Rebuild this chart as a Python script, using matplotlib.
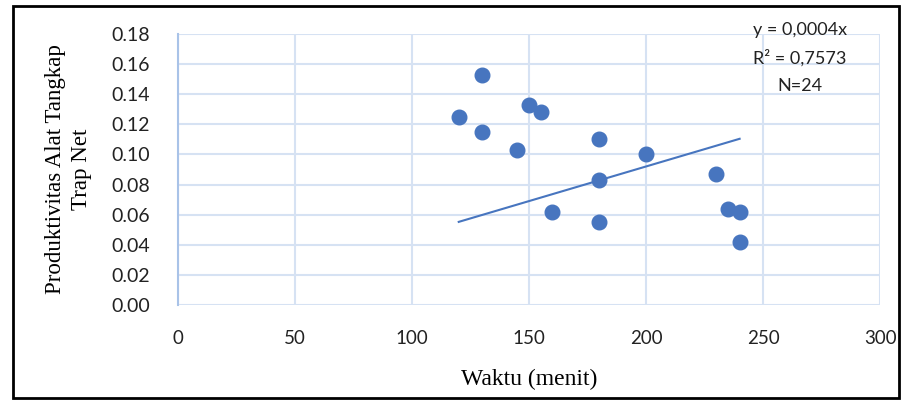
import numpy as np
import matplotlib
matplotlib.use("Agg")
import matplotlib.pyplot as plt
from matplotlib.patches import Rectangle

# -----------------------------------
# DATA
# -----------------------------------

waktu = [120, 130, 130, 145, 150, 155, 160, 180, 180, 180, 200, 230, 235, 240, 240]
produktivitas = [0.125, 0.153, 0.115, 0.103, 0.133, 0.128, 0.062, 0.110, 0.083,
                 0.055, 0.100, 0.087, 0.064, 0.062, 0.042]

trend_slope = 0.00046
trend_range = [120, 240]

x_ticks = [0, 50, 100, 150, 200, 250, 300]
y_ticks = [0.00, 0.02, 0.04, 0.06, 0.08, 0.10, 0.12, 0.14, 0.16, 0.18]

annot_lines = ["y = 0,0004x", "R² = 0,7573", "N=24"]

# -----------------------------------
# STYLE
# -----------------------------------

blue = "#4775BF"
grid_col = "#D6E2F3"
label_font = "Lato"
serif_font = "Liberation Serif"

fig = plt.figure(figsize=(9.12, 4.05), dpi=100)
ax = fig.add_axes([0.195, 0.247, 0.77, 0.669])

# scatter
ax.plot(waktu, produktivitas, "o", color=blue, markersize=10.5, zorder=3)

# trend line through origin
tx = np.array(trend_range)
ax.plot(tx, trend_slope * tx, color=blue, linewidth=1.5, zorder=2)

ax.set_xlim(0, 300)
ax.set_ylim(0, 0.18)
ax.set_xticks(x_ticks)
ax.set_yticks(y_ticks)
ax.set_xticklabels([str(v) for v in x_ticks], fontfamily=label_font, fontsize=13.5)
ax.set_yticklabels([f"{v:.2f}" for v in y_ticks], fontfamily=label_font, fontsize=14)
ax.tick_params(length=0, pad=18, axis="x", colors="#222222")
ax.tick_params(length=0, pad=20, axis="y", colors="#222222")

ax.grid(True, color=grid_col, linewidth=1.5)
ax.set_axisbelow(True)
for s in ["top", "right", "bottom"]:
    ax.spines[s].set_visible(False)
ax.spines["left"].set_color("#A9C3E8")
ax.spines["left"].set_linewidth(1.5)

ax.set_xlabel("Waktu (menit)", fontfamily=serif_font, fontsize=17, labelpad=16)
ax.set_ylabel("Produktivitas Alat Tangkap\nTrap Net", fontfamily=serif_font,
              fontsize=16.5, labelpad=14, linespacing=1.3)

# equation annotation
for i, line in enumerate(annot_lines):
    fig.text(0.877, 0.925 - i * 0.069, line, ha="center", va="center",
             fontfamily=label_font, fontsize=13, color="#222222")

# outer frame
fig.patches.append(Rectangle((0.014, 0.017), 0.972, 0.968, transform=fig.transFigure,
                             fill=False, edgecolor="black", linewidth=2))

plt.savefig("out.png", dpi=100)
